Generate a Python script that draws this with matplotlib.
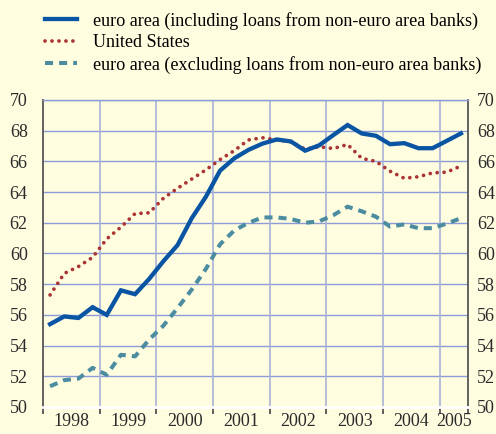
import numpy as np
import matplotlib
matplotlib.use("Agg")
import matplotlib.pyplot as plt
import matplotlib.transforms as mtransforms

plt.rcParams["font.family"] = ["Liberation Serif", "DejaVu Serif"]

# quarterly observations, 1998 Q1 .. 2005 Q2
euro_incl = [55.4, 55.9, 55.8, 56.5, 56.0, 57.6, 57.35, 58.35, 59.5, 60.55,
             62.3, 63.7, 65.4, 66.2, 66.75, 67.16, 67.43, 67.3, 66.7, 67.05,
             67.72, 68.37, 67.82, 67.67, 67.12, 67.19, 66.86, 66.86, 67.34, 67.82]
us = [57.3, 58.7, 59.15, 59.75, 60.95, 61.72, 62.6, 62.65, 63.6, 64.25,
      64.85, 65.45, 66.12, 66.7, 67.4, 67.54, 67.4, 67.27, 66.8, 66.95,
      66.84, 67.1, 66.2, 66.0, 65.36, 64.9, 65.0, 65.25, 65.3, 65.7]
euro_excl = [51.35, 51.75, 51.85, 52.55, 52.1, 53.4, 53.3, 54.4, 55.3, 56.45,
             57.65, 59.0, 60.6, 61.5, 62.0, 62.35, 62.35, 62.25, 62.0, 62.1,
             62.5, 63.05, 62.75, 62.4, 61.75, 61.9, 61.65, 61.65, 61.95, 62.3]
years = ["1998", "1999", "2000", "2001", "2002", "2003", "2004", "2005"]
labels = ["euro area (including loans from non-euro area banks)",
          "United States",
          "euro area (excluding loans from non-euro area banks)"]

bg = "#fffde0"
grid_c = "#8d9cd6"
blue, red, teal = "#0a55a3", "#ab3434", "#4b8ca0"

x = np.arange(len(euro_incl)) + 0.5   # mid-quarter positions

fig = plt.figure(figsize=(4.96, 4.34), dpi=100, facecolor=bg)
ax = fig.add_axes([43 / 496, 27 / 434, 425 / 496, 307 / 434], facecolor=bg)

l1, = ax.plot(x, euro_incl, color=blue, lw=3.1, solid_joinstyle="miter", zorder=4)
l2, = ax.plot(x, us, color=red, lw=2.7, ls=(0, (0.01, 1.85)),
              dash_capstyle="round", zorder=3)
l3, = ax.plot(x, euro_excl, color=teal, lw=2.9, ls=(0, (2, 1.5)), zorder=3)

ax.set_xlim(0, 30)
ax.set_ylim(50, 70)
ax.set_yticks(range(50, 71, 2))
ax.set_xticks(list(range(0, 29, 4)) + [30])
ax.set_xticklabels([])
ax.set_xticks([2 + 4 * k for k in range(7)] + [29], minor=True)
ax.set_xticklabels(years, minor=True)

for v in range(52, 71, 2):
    ax.axhline(v, color=grid_c, lw=1.0, zorder=1)
for v in range(4, 29, 4):
    ax.axvline(v, color="#a8b2d8", lw=1.2, zorder=1)

for side in ("left", "right"):
    ax.spines[side].set_color("#555555")
    ax.spines[side].set_linewidth(1.3)
ax.spines["top"].set_color(grid_c)
ax.spines["top"].set_linewidth(1.0)
ax.spines["bottom"].set_color("white")
ax.spines["bottom"].set_linewidth(2.0)

ax.tick_params(axis="y", which="both", length=0, labelsize=13, colors="#2a2a2a",
               pad=11, left=True, right=True, labelleft=True, labelright=True)
ax.tick_params(axis="x", which="major", length=5, width=1.2, color="#444444",
               direction="out")
ax.tick_params(axis="x", which="minor", length=0, labelsize=13, colors="#2a2a2a",
               pad=4)

# right-hand labels sit closer to the spine than the left ones
shift = mtransforms.ScaledTranslation(-6 / 100, 0, fig.dpi_scale_trans)
for t in ax.yaxis.get_major_ticks():
    t.label2.set_transform(t.label2.get_transform() + shift)

fig.legend([l1, l2, l3], labels, loc="upper left", bbox_to_anchor=(38 / 496, 0.99),
           frameon=False, fontsize=13.1, handlelength=1.75, handletextpad=0.9,
           labelspacing=0.25, borderaxespad=0.2, borderpad=0.2)

fig.savefig("out.png", dpi=100, facecolor=bg)
